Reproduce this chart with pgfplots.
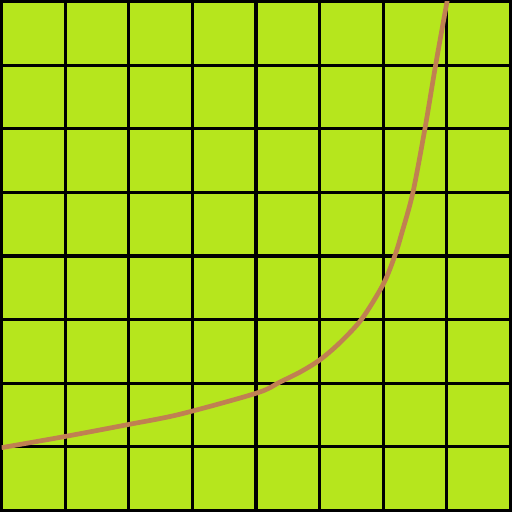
\documentclass[border=0pt]{standalone}
\usepackage{pgfplots}
\pgfplotsset{compat=1.18}
\definecolor{bg}{RGB}{182,230,29}
\definecolor{crv}{RGB}{192,128,82}
\begin{document}
\begin{tikzpicture}
\begin{axis}[
  name=ax,
  width=8cm, height=8cm, scale only axis,
  xmin=0, xmax=8, ymin=0, ymax=8,
  xtick={0,1,...,8}, ytick={0,1,...,8},
  xticklabels={}, yticklabels={},
  major tick length=0pt,
  grid=major,
  major grid style={black, line width=1.4pt},
  axis line style={black, line width=1.4pt},
  axis background/.style={fill=bg},
  clip=true,
]
\addplot[crv, line width=2.1pt, smooth] coordinates {
(0,0.987) (0.983,1.160) (1.989,1.350) (2.807,1.513) (4.017,1.847)
(4.379,2.020) (4.693,2.175) (5.008,2.370) (5.322,2.640) (5.664,3.011)
(6.003,3.561) (6.187,4.017) (6.292,4.360) (6.465,4.990) (6.658,6.014)
(6.827,7.020) (7.012,8.05)
};
\end{axis}
\pgfresetboundingbox
\path ([shift={(-0.7pt,-0.7pt)}]ax.south west) rectangle ([shift={(0.7pt,0.7pt)}]ax.north east);
\end{tikzpicture}
\end{document}
